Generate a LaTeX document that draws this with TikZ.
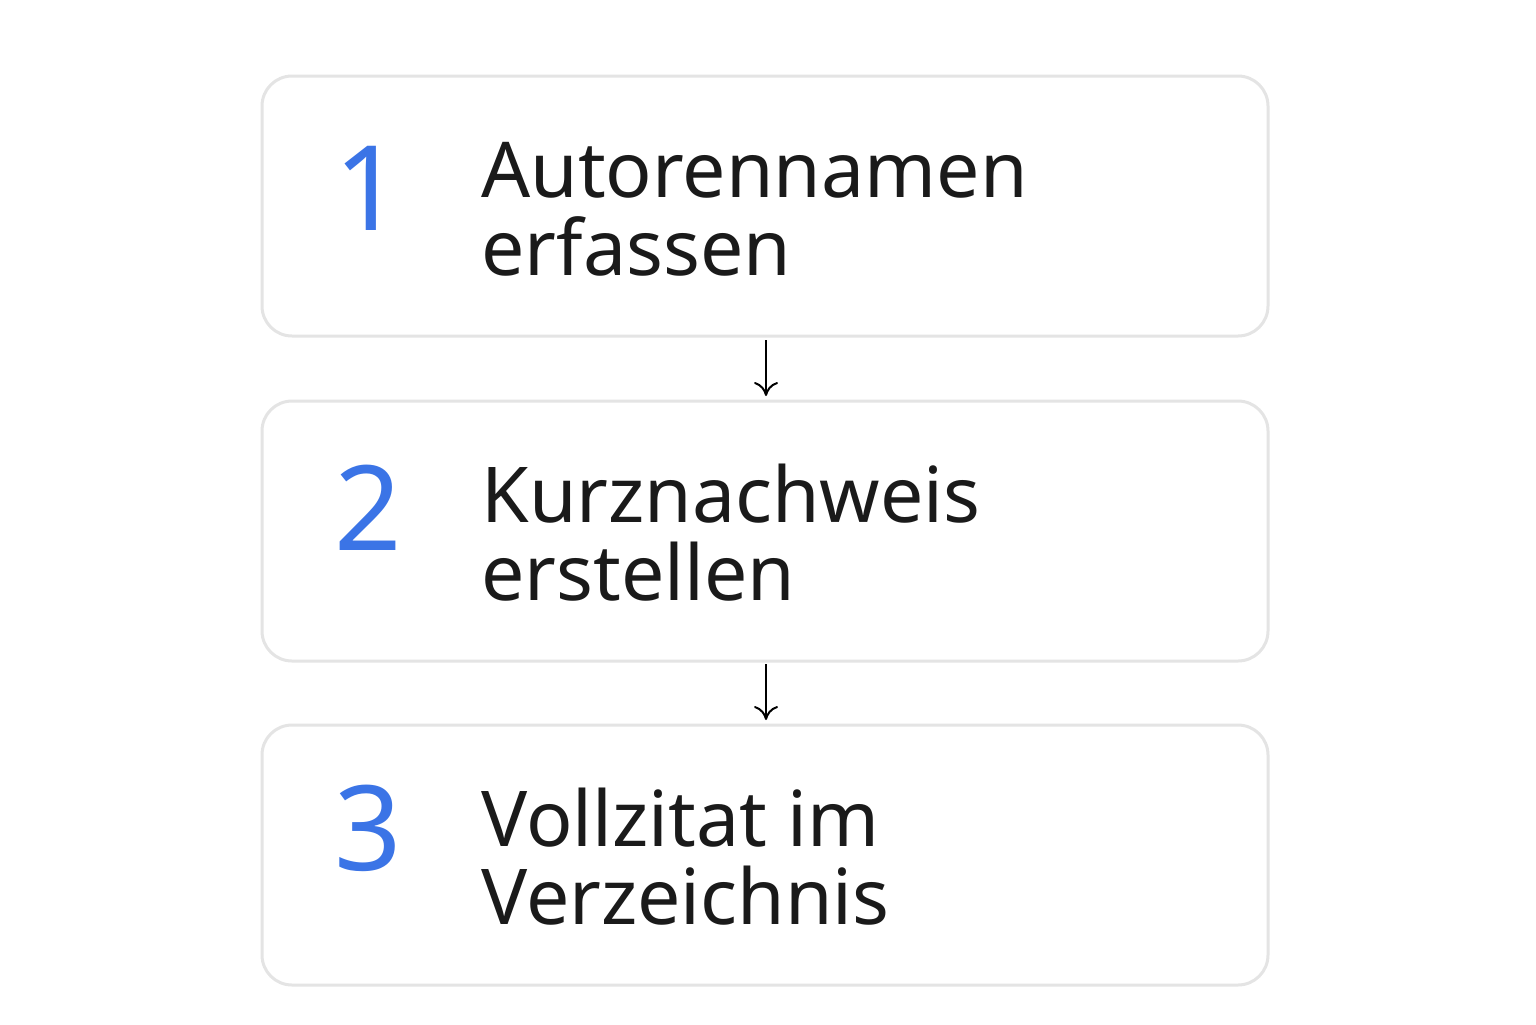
\documentclass[tikz,border=0pt]{standalone}
\usepackage{fontspec}
\setmainfont{Noto Sans}
\usetikzlibrary{arrows.meta}
\definecolor{numblue}{HTML}{3B74E6}
\definecolor{boxgray}{HTML}{E4E4E4}
\definecolor{txt}{HTML}{1A1A1A}
\tikzset{
  stepbox/.style={draw=boxgray,line width=1.5pt,rounded corners=15pt,fill=white},
  num/.style={anchor=base,text=numblue,font=\fontsize{59}{59}\selectfont\bfseries,inner sep=0},
  lbl/.style={anchor=base west,text=txt,font=\fontsize{38.5}{39}\selectfont\bfseries,inner sep=0},
  conn/.style={-{To[length=7pt,width=12pt]},line width=1pt,black}
}
\begin{document}
\begin{tikzpicture}[x=0.5pt,y=-0.5pt]
\useasboundingbox (0,0) rectangle (1536,1024);
\foreach \i/\t in {1/76,2/401,3/725}{
  \draw[stepbox] (262,\t) rectangle (1268,\t+260) node[pos=0.5,inner sep=0] (b\i){};
}
\node[num] (n1) at (368,230) {1};
\node[num] (n2) at (368,550) {2};
\node[num] (n3) at (368,870) {3};
\node[lbl] (t1a) at (481,197) {Autorennamen};
\node[lbl] (t1b) at (481,275) {erfassen};
\node[lbl] (t2a) at (481,522) {Kurznachweis};
\node[lbl] (t2b) at (481,600) {erstellen};
\node[lbl] (t3a) at (481,846) {Vollzitat im};
\node[lbl] (t3b) at (481,924) {Verzeichnis};
\coordinate (a1s) at (766,340); \coordinate (a1e) at (766,396);
\coordinate (a2s) at (766,664); \coordinate (a2e) at (766,720);
\draw[conn] (a1s) -- (a1e);
\draw[conn] (a2s) -- (a2e);
\end{tikzpicture}
\end{document}
